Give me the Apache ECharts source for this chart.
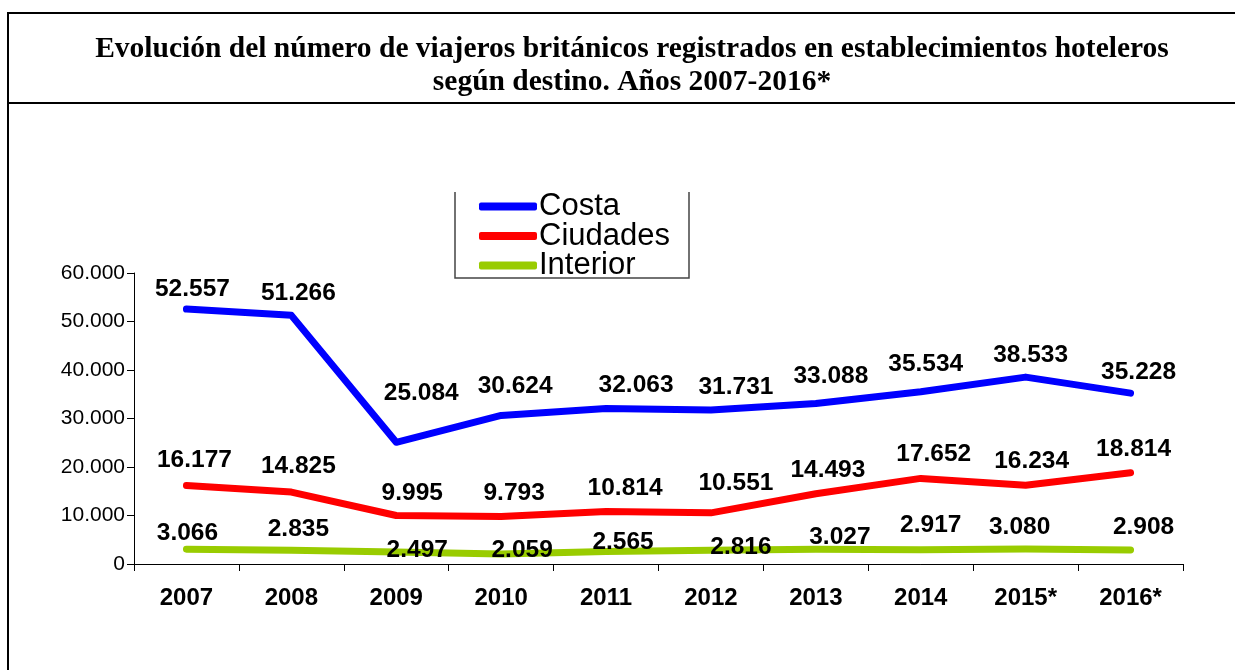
<!DOCTYPE html>
<html>
<head>
<meta charset="utf-8">
<script src="https://cdn.jsdelivr.net/npm/echarts@6/dist/echarts.min.js"></script>
<style>
html, body { margin: 0; padding: 0; background: #fff; }
#chart { width: 1235px; height: 670px; }
</style>
</head>
<body>
<div id="chart"></div>
<script>
// datos
var years = ['2007', '2008', '2009', '2010', '2011', '2012', '2013', '2014', '2015*', '2016*'];
var costa = [52557, 51266, 25084, 30624, 32063, 31731, 33088, 35534, 38533, 35228];
var ciudades = [16177, 14825, 9995, 9793, 10814, 10551, 14493, 17652, 16234, 18814];
var interior = [3066, 2835, 2497, 2059, 2565, 2816, 3027, 2917, 3080, 2908];

// desplazamiento de cada etiqueta respecto a su punto
var nudgeCosta = [[6, -20], [7, -22], [25, -49], [14, -29], [30, -23], [25, -23], [15, -27], [5, -27], [5, -22], [8, -21]];
var nudgeCiudades = [[8, -25], [7, -26], [16, -22], [13, -23], [19, -23], [25, -30], [12, -23], [13, -24], [6, -24], [3, -24]];
var nudgeInterior = [[1, -16], [7, -21], [21, -2], [21, -4], [17, -9], [30, -3], [24, -12], [10, -25], [-6, -22], [13, -23]];

function fmt(v) {
  return String(v).replace(/\B(?=(\d{3})+(?!\d))/g, '.');
}

function makeSeries(name, values, nudges, color) {
  return {
    name: name,
    type: 'line',
    data: values.map(function (v, i) {
      return { value: v, label: { offset: nudges[i] } };
    }),
    symbol: 'circle',
    symbolSize: 2,
    showSymbol: true,
    itemStyle: { color: color },
    lineStyle: { color: color, width: 7, cap: 'round', join: 'round' },
    label: {
      show: true,
      position: 'inside',
      formatter: function (p) { return fmt(p.value); },
      color: '#000',
      fontFamily: 'Liberation Sans, Arial, sans-serif',
      fontWeight: 'bold',
      fontSize: 24.5
    },
    emphasis: { disabled: true },
    animation: false
  };
}

var chart = echarts.init(document.getElementById('chart'));
var option = {
  backgroundColor: '#fff',
  animation: false,
  title: {
    text: 'Evolución del número de viajeros británicos registrados en establecimientos hoteleros\nsegún destino. Años 2007-2016*',
    left: 627,
    top: 28,
    textAlign: 'center',
    textStyle: {
      fontFamily: 'Liberation Serif, Times New Roman, serif',
      fontWeight: 'bold',
      fontSize: 29.5,
      lineHeight: 33,
      color: '#000'
    }
  },
  legend: {
    orient: 'vertical',
    left: 479,
    top: 191,
    padding: 0,
    itemGap: -1.5,
    itemWidth: 58,
    itemHeight: 8,
    icon: 'roundRect',
    data: ['Costa', 'Ciudades', 'Interior'],
    textStyle: {
      fontFamily: 'Liberation Sans, Arial, sans-serif',
      fontSize: 31,
      lineHeight: 29.5,
      color: '#000',
      padding: [0, 0, 0, -3]
    }
  },
  graphic: [
    { type: 'line', shape: { x1: 8, y1: 13, x2: 1235, y2: 13 }, style: { stroke: '#000', lineWidth: 2 } },
    { type: 'line', shape: { x1: 8, y1: 103, x2: 1235, y2: 103 }, style: { stroke: '#000', lineWidth: 2 } },
    { type: 'line', shape: { x1: 8, y1: 12, x2: 8, y2: 670 }, style: { stroke: '#000', lineWidth: 2 } },
    {
      type: 'polyline',
      shape: { points: [[455, 192], [455, 278], [689, 278], [689, 192]] },
      style: { stroke: '#444', lineWidth: 1.5, fill: null }
    }
  ],
  grid: { left: 134, right: 52, top: 273, bottom: 106 },
  xAxis: {
    type: 'category',
    data: years,
    boundaryGap: true,
    axisLine: { lineStyle: { color: '#000', width: 1 } },
    axisTick: { show: true, length: 7, lineStyle: { color: '#000' } },
    axisLabel: {
      color: '#000',
      fontFamily: 'Liberation Sans, Arial, sans-serif',
      fontWeight: 'bold',
      fontSize: 24,
      margin: 22
    },
    splitLine: { show: false }
  },
  yAxis: {
    type: 'value',
    min: 0,
    max: 60000,
    interval: 10000,
    axisLine: { show: true, lineStyle: { color: '#000', width: 1 } },
    axisTick: { show: true, length: 7, lineStyle: { color: '#000' } },
    axisLabel: {
      color: '#000',
      fontFamily: 'Liberation Sans, Arial, sans-serif',
      fontSize: 21,
      margin: 9,
      formatter: fmt
    },
    splitLine: { show: false }
  },
  series: [
    makeSeries('Costa', costa, nudgeCosta, '#0000ff'),
    makeSeries('Ciudades', ciudades, nudgeCiudades, '#ff0000'),
    makeSeries('Interior', interior, nudgeInterior, '#99cc00')
  ]
};
chart.setOption(option);
</script>
</body>
</html>
